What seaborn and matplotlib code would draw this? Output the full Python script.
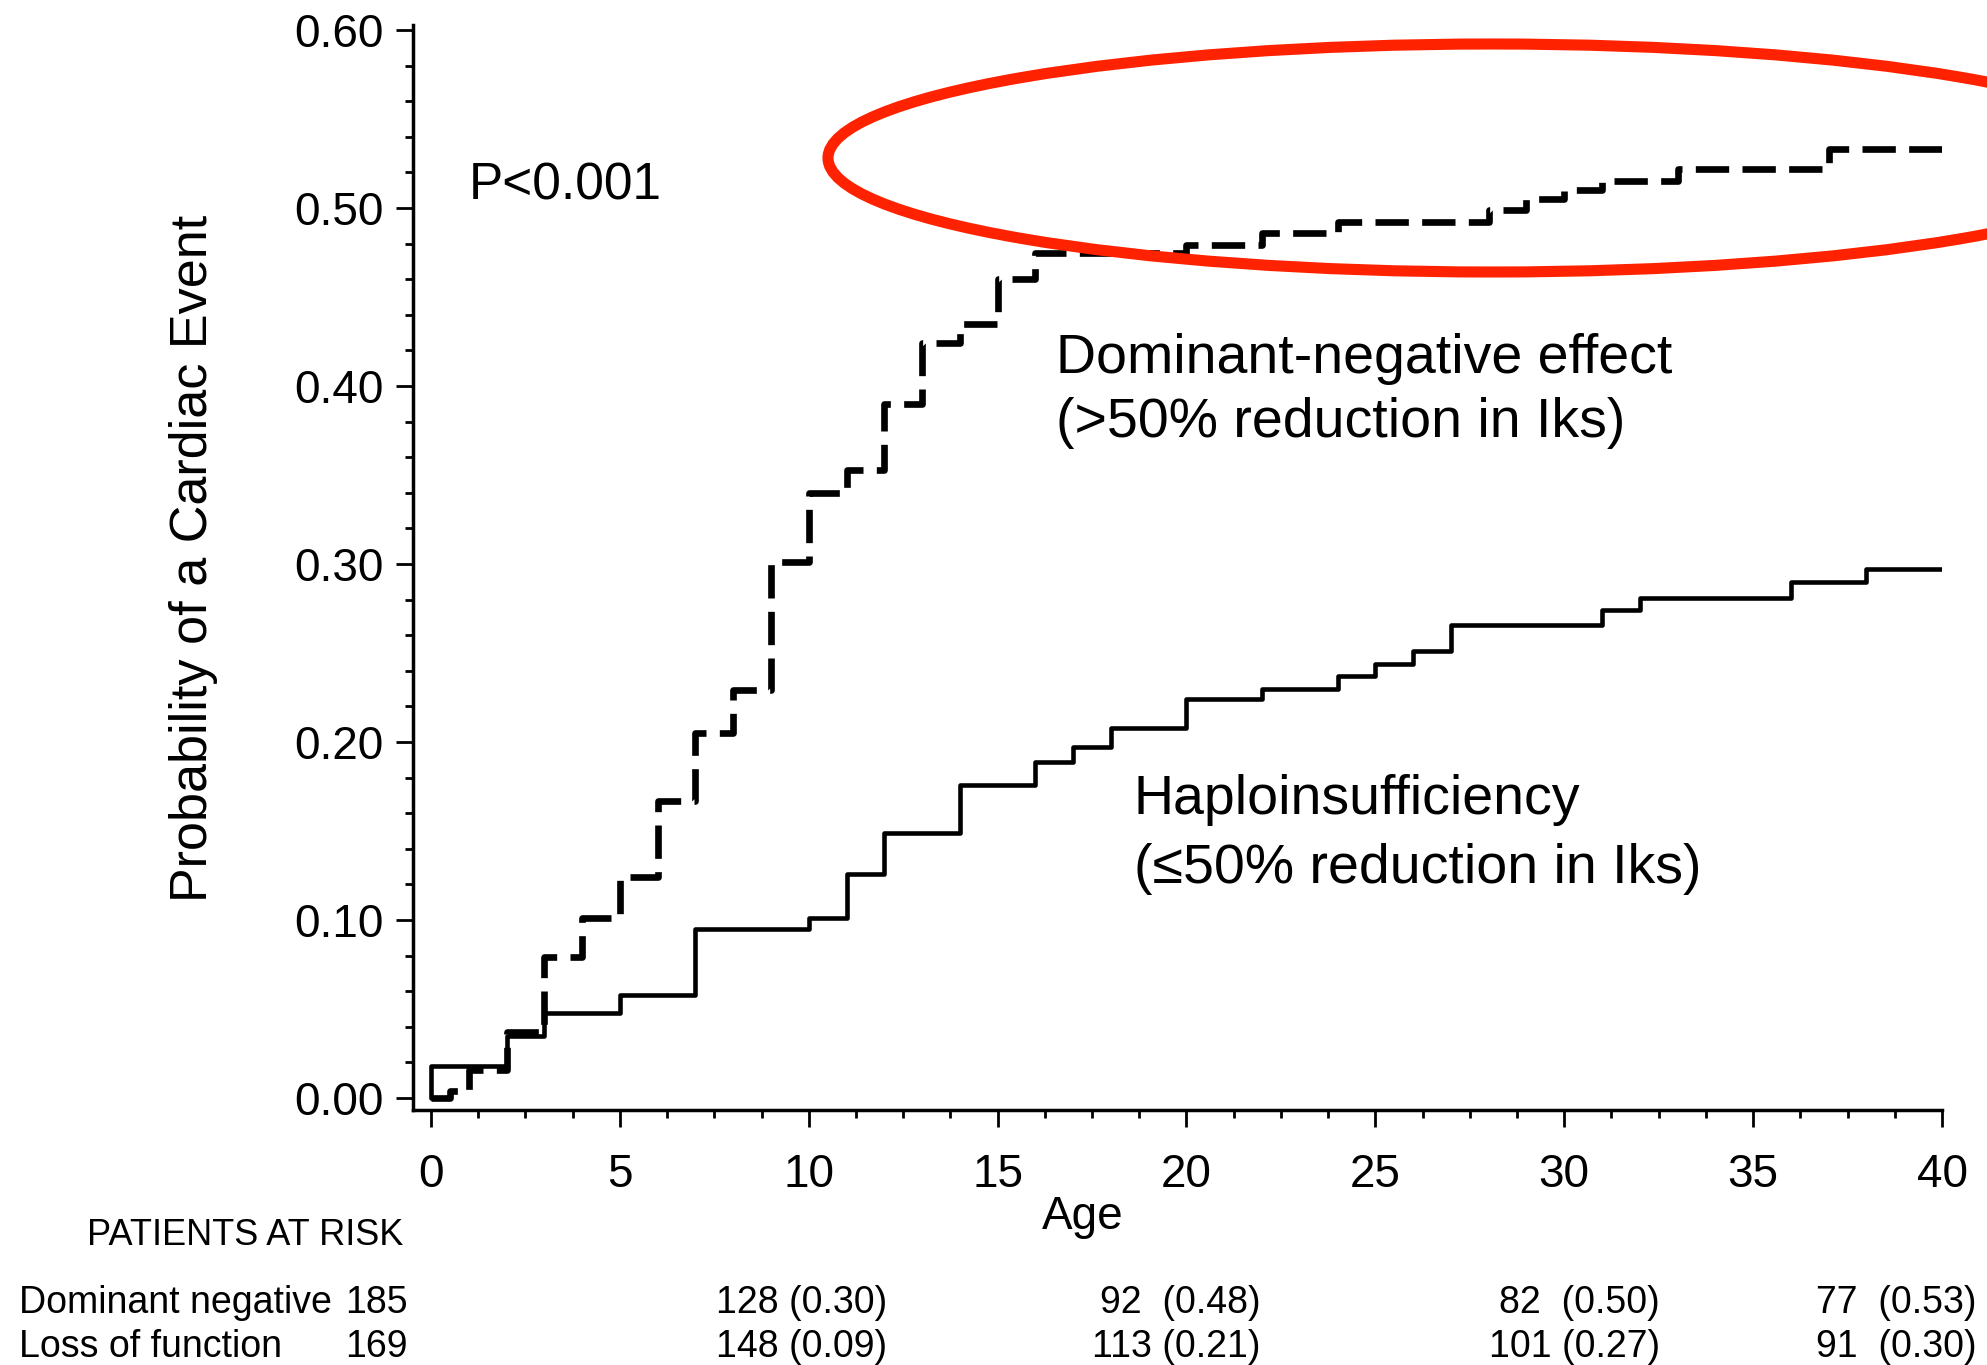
import numpy as np
import pandas as pd
import matplotlib
matplotlib.use("Agg")
import matplotlib.pyplot as plt
from matplotlib.patches import Ellipse
from matplotlib.ticker import MultipleLocator, FormatStrFormatter
import seaborn as sns

# Kaplan-Meier style cumulative event probabilities (step changes at each age)
age_dn = [0, 0.5, 1, 2, 3, 4, 5, 6, 7, 8, 9, 10, 11, 12, 13, 14, 15, 16,
          20, 22, 24, 28, 29, 30, 31, 33, 37, 40]
prob_dn = [0.0, 0.004, 0.016, 0.037, 0.079, 0.101, 0.124, 0.167, 0.205, 0.229,
           0.301, 0.340, 0.353, 0.390, 0.424, 0.435, 0.460, 0.475,
           0.479, 0.486, 0.492, 0.499, 0.505, 0.510, 0.515, 0.522, 0.533, 0.533]

age_lof = [0, 0, 2, 3, 5, 7, 10, 11, 12, 14, 16, 17, 18, 20, 22, 24, 25, 26,
           27, 31, 32, 36, 38, 40]
prob_lof = [0.0, 0.018, 0.035, 0.048, 0.058, 0.095, 0.101, 0.126, 0.149, 0.176,
            0.189, 0.197, 0.208, 0.224, 0.230, 0.237, 0.244, 0.251,
            0.266, 0.274, 0.281, 0.290, 0.297, 0.297]

# Patients at risk table
risk_dn_n = [185, 128, 92, 82, 77]
risk_dn_p = [None, 0.30, 0.48, 0.50, 0.53]
risk_lof_n = [169, 148, 113, 101, 91]
risk_lof_p = [None, 0.09, 0.21, 0.27, 0.30]
row_labels = ["Dominant negative", "Loss of function"]

sns.set_theme(style="ticks")
plt.rcParams['font.family'] = ['Liberation Sans', 'DejaVu Sans']
for key in ["text.color", "axes.labelcolor", "xtick.color", "ytick.color", "axes.edgecolor"]:
    plt.rcParams[key] = "black"

W, H = 1987, 1365
fig = plt.figure(figsize=(W / 100, H / 100), dpi=100)
fig.patch.set_facecolor("white")


def fx(px):
    return px / W


def fy(py):
    return 1 - py / H


ax = fig.add_axes([fx(413), fy(1110), fx(1942) - fx(413), fy(25) - fy(1110)])
ax.set_facecolor("white")

df_dn = pd.DataFrame({"Age": age_dn, "Probability": prob_dn})
df_lof = pd.DataFrame({"Age": age_lof, "Probability": prob_lof})

sns.lineplot(data=df_lof, x="Age", y="Probability", estimator=None,
             drawstyle="steps-post", color="black", lw=3.3, ax=ax)
sns.lineplot(data=df_dn, x="Age", y="Probability", estimator=None,
             drawstyle="steps-post", color="black", lw=4.8,
             linestyle=(0, (5.0, 2.0)), ax=ax)

ax.set_xlim(-0.476, 40)
ax.set_ylim(-0.0067, 0.6028)
ax.set_xlabel("")
ax.set_ylabel("")

ax.xaxis.set_major_locator(MultipleLocator(5))
ax.xaxis.set_minor_locator(MultipleLocator(1.25))
ax.yaxis.set_major_locator(MultipleLocator(0.1))
ax.yaxis.set_minor_locator(MultipleLocator(0.02))
ax.yaxis.set_major_formatter(FormatStrFormatter("%.2f"))

ax.tick_params(which="both", bottom=True, left=True, direction="out",
               width=2, color="black")
ax.tick_params(axis="both", which="major", length=12, labelsize=33)
ax.tick_params(axis="both", which="minor", length=6)
ax.tick_params(axis="x", which="major", pad=19)
ax.tick_params(axis="y", which="major", pad=9)

for side in ["top", "right"]:
    ax.spines[side].set_visible(False)
for side in ["left", "bottom"]:
    ax.spines[side].set_linewidth(2.5)
    ax.spines[side].set_color("black")

# Axis titles
fig.text(fx(1083), fy(1229), "Age", ha="center", va="baseline", fontsize=33)
fig.text(fx(194), fy(558), "Probability of a Cardiac Event", rotation=90,
         ha="center", va="center", fontsize=37.5)

# Annotations
fig.text(fx(469), fy(200), "P<0.001", ha="left", va="baseline", fontsize=37)
fig.text(fx(1056), fy(373), "Dominant-negative effect", ha="left",
         va="baseline", fontsize=40)
fig.text(fx(1056), fy(437), "(>50% reduction in Iks)", ha="left",
         va="baseline", fontsize=40)
fig.text(fx(1134), fy(814), "Haploinsufficiency", ha="left",
         va="baseline", fontsize=40)
fig.text(fx(1134), fy(883), "(\u226450% reduction in Iks)", ha="left",
         va="baseline", fontsize=40)

# Patients at risk
fig.text(fx(403), fy(1245), "PATIENTS AT RISK", ha="right", va="baseline",
         fontsize=26)
row_y = [1313, 1357]
value_right = [887, 1261, 1660, 1977]
for label, ns, ps, yb in zip(row_labels, [risk_dn_n, risk_lof_n],
                             [risk_dn_p, risk_lof_p], row_y):
    fig.text(fx(19), fy(yb), label, ha="left", va="baseline", fontsize=27)
    fig.text(fx(408), fy(yb), str(ns[0]), ha="right", va="baseline", fontsize=27)
    for n, p, xr in zip(ns[1:], ps[1:], value_right):
        sep = " " if n >= 100 else "  "
        fig.text(fx(xr), fy(yb), f"{n}{sep}({p:.2f})", ha="right",
                 va="baseline", fontsize=27)

# Highlight ring around the late plateau
ring = Ellipse((fx(1492), fy(158)), width=2 * 664 / W, height=2 * 114 / H,
               transform=fig.transFigure, fill=False, edgecolor="#ff2200",
               lw=8, zorder=10)
fig.add_artist(ring)

fig.savefig("out.png", dpi=100, facecolor="white")
